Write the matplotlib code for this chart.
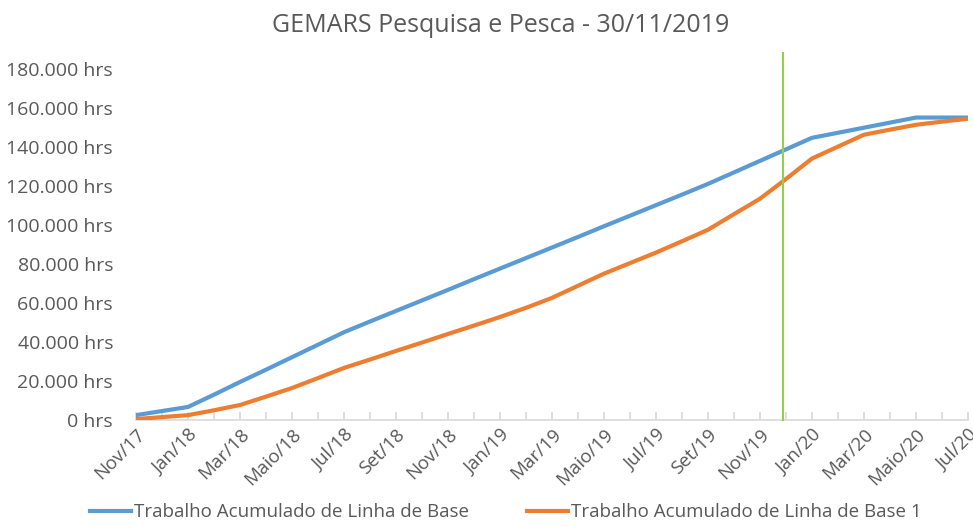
import numpy as np
import matplotlib
matplotlib.use('Agg')
import matplotlib.pyplot as plt
from matplotlib.ticker import FuncFormatter

plt.rcParams['font.family'] = ['Open Sans', 'DejaVu Sans']

months = ['Nov/17', 'Dez/17', 'Jan/18', 'Fev/18', 'Mar/18', 'Abr/18', 'Maio/18', 'Jun/18',
          'Jul/18', 'Ago/18', 'Set/18', 'Out/18', 'Nov/18', 'Dez/18', 'Jan/19', 'Fev/19',
          'Mar/19', 'Abr/19', 'Maio/19', 'Jun/19', 'Jul/19', 'Ago/19', 'Set/19', 'Out/19',
          'Nov/19', 'Dez/19', 'Jan/20', 'Fev/20', 'Mar/20', 'Abr/20', 'Maio/20', 'Jun/20',
          'Jul/20']

linha_base = [2500, 4600, 6700, 13000, 19500, 25800, 32200, 38600,
              45000, 50500, 55900, 61300, 66700, 72200, 77600, 83000,
              88400, 93800, 99300, 104700, 110100, 115500, 121000, 126900,
              132800, 138700, 144600, 147200, 149800, 152400, 155000, 155000,
              155000]

linha_base_1 = [500, 1500, 2500, 5000, 7700, 12000, 16400, 21500,
                26700, 31000, 35400, 39700, 44100, 48400, 52800, 57500,
                62600, 68800, 75000, 80400, 85800, 91600, 97500, 105500,
                113400, 123500, 134000, 140100, 146200, 148800, 151300, 152900,
                154400]

status_date_pos = 24.9   # 30/11/2019
status_top = 188000

gray = '#595959'

fig = plt.figure(figsize=(9.73, 5.29), dpi=100)
ax = fig.add_axes([0.1398, 0.206, 0.855, 0.664])

x = np.arange(len(months))
ax.plot(x, linha_base, color='#5B9BD5', lw=3, label='Trabalho Acumulado de Linha de Base',
        solid_joinstyle='round', zorder=3)
ax.plot(x, linha_base_1, color='#ED7D31', lw=3, label='Trabalho Acumulado de Linha de Base 1',
        solid_joinstyle='round', zorder=3)
ax.plot([status_date_pos, status_date_pos], [0, status_top], color='#92D050', lw=1.5,
        clip_on=False, zorder=4)

ax.set_xlim(0, len(months) - 1)
ax.set_ylim(0, 180000)
ax.set_yticks(np.arange(0, 180001, 20000))
ax.yaxis.set_major_formatter(FuncFormatter(lambda v, p: f'{int(v):,}'.replace(',', '.') + ' hrs'))

ax.set_xticks(x)
ax.set_xticklabels([m if i % 2 == 0 else '' for i, m in enumerate(months)],
                   rotation=45, ha='right', rotation_mode='anchor')

for s in ['top', 'right', 'left']:
    ax.spines[s].set_visible(False)
ax.spines['bottom'].set_color('#D9D9D9')
ax.spines['bottom'].set_linewidth(1.2)
ax.tick_params(axis='x', direction='in', length=6, color='#D9D9D9', width=1.2,
               labelsize=13.5, labelcolor=gray, pad=4)
ax.tick_params(axis='y', length=0, labelsize=14, labelcolor=gray, pad=16.5)

fig.suptitle('GEMARS Pesquisa e Pesca - 30/11/2019', x=0.515, y=0.975, fontsize=18, color=gray)

fig.legend(loc='lower center', bbox_to_anchor=(0.52, -0.017), ncol=2, frameon=False,
           fontsize=13.5, labelcolor=gray, handlelength=2.2, columnspacing=3.1, handletextpad=0.15)

fig.savefig('out.png', dpi=100)
